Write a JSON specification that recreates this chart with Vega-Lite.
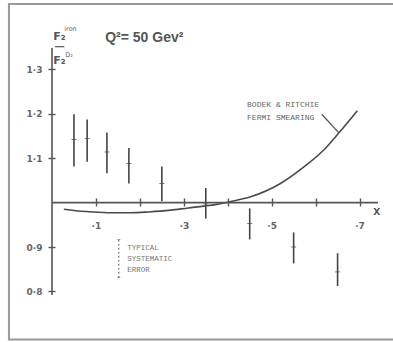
{
  "$schema": "https://vega.github.io/schema/vega-lite/v6.json",
  "autosize": "none",
  "width": 326,
  "height": 247,
  "padding": {"left": 52, "top": 48, "right": 15, "bottom": 47},
  "background": "white",
  "config": {"view": {"stroke": null}, "font": "DejaVu Sans"},
  "datasets": {
    "ratio": [
      {"x": 0.05, "y": 1.142, "lo": 1.081, "hi": 1.199},
      {"x": 0.08, "y": 1.144, "lo": 1.092, "hi": 1.187},
      {"x": 0.125, "y": 1.114, "lo": 1.066, "hi": 1.158},
      {"x": 0.175, "y": 1.088, "lo": 1.043, "hi": 1.123},
      {"x": 0.25, "y": 1.043, "lo": 1.003, "hi": 1.081},
      {"x": 0.35, "y": 0.997, "lo": 0.964, "hi": 1.033},
      {"x": 0.45, "y": 0.953, "lo": 0.917, "hi": 0.987},
      {"x": 0.55, "y": 0.9, "lo": 0.863, "hi": 0.933},
      {"x": 0.65, "y": 0.844, "lo": 0.812, "hi": 0.886}
    ],
    "fermi": [
      {"x": 0.027, "r": 0.985},
      {"x": 0.06, "r": 0.981},
      {"x": 0.095, "r": 0.979},
      {"x": 0.14, "r": 0.977},
      {"x": 0.178, "r": 0.977},
      {"x": 0.22, "r": 0.979},
      {"x": 0.27, "r": 0.983},
      {"x": 0.31, "r": 0.988},
      {"x": 0.345, "r": 0.992},
      {"x": 0.375, "r": 0.996},
      {"x": 0.405, "r": 1.002},
      {"x": 0.452, "r": 1.013},
      {"x": 0.52, "r": 1.043},
      {"x": 0.577, "r": 1.083},
      {"x": 0.619, "r": 1.119},
      {"x": 0.653, "r": 1.157},
      {"x": 0.695, "r": 1.207}
    ]
  },
  "layer": [
    {
      "data": {"name": "ratio"},
      "mark": {"type": "rule", "color": "#444", "strokeWidth": 1.6},
      "encoding": {
        "x": {
          "field": "x", "type": "quantitative", "title": null,
          "scale": {"domain": [0, 0.742], "nice": false, "zero": false},
          "axis": {
            "orient": "bottom", "offset": -97, "domain": false, "grid": false,
            "values": [0.1, 0.2, 0.3, 0.4, 0.5, 0.6, 0.7],
            "tickSize": 8, "tickColor": "#555", "tickWidth": 1.4,
            "labelPadding": 15, "labelFont": "DejaVu Sans", "labelFontSize": 9,
            "labelFontWeight": "bold", "labelColor": "#666",
            "labelExpr": "indexof([1, 3, 5, 7], round(datum.value * 10)) >= 0 ? '·' + round(datum.value * 10) : ''"
          }
        },
        "y": {
          "field": "lo", "type": "quantitative", "title": null,
          "scale": {"domain": [0.792, 1.348], "nice": false, "zero": false},
          "axis": {
            "orient": "left", "offset": -3, "domain": false, "grid": false,
            "values": [0.8, 0.9, 1.1, 1.2, 1.3],
            "tickSize": 7, "tickColor": "#555", "tickWidth": 1.4,
            "labelPadding": 6, "labelFont": "DejaVu Sans", "labelFontSize": 9,
            "labelFontWeight": "bold", "labelColor": "#666",
            "labelExpr": "replace(format(datum.value, '.1f'), '.', '·')"
          }
        },
        "y2": {"field": "hi"}
      }
    },
    {
      "data": {"name": "ratio"},
      "mark": {"type": "tick", "orient": "horizontal", "color": "#444", "size": 5, "thickness": 1},
      "encoding": {
        "x": {"field": "x", "type": "quantitative", "title": null},
        "y": {"field": "y", "type": "quantitative", "title": null}
      }
    },
    {
      "data": {"name": "fermi"},
      "mark": {"type": "line", "interpolate": "monotone", "color": "#4a4a4a", "strokeWidth": 1.6},
      "encoding": {
        "x": {"field": "x", "type": "quantitative", "title": null},
        "y": {"field": "r", "type": "quantitative", "title": null}
      }
    },
    {
      "data": {"values": [{}]},
      "layer": [
        {
          "mark": {"type": "rect", "fill": null, "stroke": "#999", "strokeWidth": 2},
          "encoding": {
            "x": {"datum": -0.098}, "x2": {"datum": 0.83},
            "y": {"datum": 1.447}, "y2": {"datum": 0.692}
          }
        },
        {
          "mark": {"type": "rule", "color": "#555", "strokeWidth": 1.6},
          "encoding": {"x": {"datum": 0}, "y": {"datum": 0.792}, "y2": {"datum": 1.348}}
        },
        {
          "mark": {"type": "rule", "color": "#555", "strokeWidth": 1.6},
          "encoding": {"y": {"datum": 1.0}, "x": {"datum": 0}, "x2": {"datum": 0.742}}
        },
        {
          "mark": {"type": "text", "text": "X", "font": "DejaVu Sans", "fontSize": 9, "fontWeight": "bold", "fill": "#555"},
          "encoding": {"x": {"datum": 0.739}, "y": {"datum": 0.979}}
        },
        {
          "mark": {"type": "text", "text": "Q²= 50 Gev²", "align": "left", "font": "Liberation Sans", "fontSize": 14, "fontWeight": "bold", "fill": "#555"},
          "encoding": {"x": {"datum": 0.121}, "y": {"datum": 1.371}}
        },
        {
          "mark": {"type": "text", "text": "F₂", "font": "DejaVu Sans", "fontSize": 11, "fontWeight": "bold", "fill": "#555"},
          "encoding": {"x": {"datum": 0.017}, "y": {"datum": 1.373}}
        },
        {
          "mark": {"type": "text", "text": "iron", "align": "left", "font": "DejaVu Sans", "fontSize": 6.5, "fill": "#666"},
          "encoding": {"x": {"datum": 0.028}, "y": {"datum": 1.391}}
        },
        {
          "mark": {"type": "rule", "color": "#555", "strokeWidth": 1.2},
          "encoding": {"x": {"datum": 0.007}, "x2": {"datum": 0.028}, "y": {"datum": 1.351}}
        },
        {
          "mark": {"type": "text", "text": "F₂", "font": "DejaVu Sans", "fontSize": 11, "fontWeight": "bold", "fill": "#555"},
          "encoding": {"x": {"datum": 0.017}, "y": {"datum": 1.319}}
        },
        {
          "mark": {"type": "text", "text": "D₂", "align": "left", "font": "DejaVu Sans", "fontSize": 6.5, "fill": "#666"},
          "encoding": {"x": {"datum": 0.03}, "y": {"datum": 1.333}}
        },
        {
          "mark": {"type": "text", "text": "BODEK & RITCHIE", "align": "left", "font": "Liberation Mono", "fontSize": 8, "fill": "#666"},
          "encoding": {"x": {"datum": 0.444}, "y": {"datum": 1.2196}}
        },
        {
          "mark": {"type": "text", "text": "FERMI SMEARING", "align": "left", "font": "Liberation Mono", "fontSize": 8, "fill": "#666"},
          "encoding": {"x": {"datum": 0.444}, "y": {"datum": 1.1896}}
        },
        {
          "mark": {"type": "rule", "color": "#555", "strokeWidth": 1.3},
          "encoding": {"x": {"datum": 0.614}, "y": {"datum": 1.199}, "x2": {"datum": 0.653}, "y2": {"datum": 1.157}}
        },
        {
          "mark": {"type": "rule", "color": "#666", "strokeWidth": 1.2, "strokeDash": [1.5, 2.5]},
          "encoding": {"x": {"datum": 0.152}, "y": {"datum": 0.8315}, "y2": {"datum": 0.917}}
        },
        {
          "mark": {"type": "tick", "orient": "horizontal", "color": "#666", "size": 3, "thickness": 1},
          "encoding": {"x": {"datum": 0.152}, "y": {"datum": 0.917}}
        },
        {
          "mark": {"type": "tick", "orient": "horizontal", "color": "#666", "size": 3, "thickness": 1},
          "encoding": {"x": {"datum": 0.152}, "y": {"datum": 0.8315}}
        },
        {
          "mark": {"type": "text", "text": "TYPICAL", "align": "left", "font": "Liberation Mono", "fontSize": 7.5, "fill": "#777"},
          "encoding": {"x": {"datum": 0.171}, "y": {"datum": 0.897}}
        },
        {
          "mark": {"type": "text", "text": "SYSTEMATIC", "align": "left", "font": "Liberation Mono", "fontSize": 7.5, "fill": "#777"},
          "encoding": {"x": {"datum": 0.171}, "y": {"datum": 0.873}}
        },
        {
          "mark": {"type": "text", "text": "ERROR", "align": "left", "font": "Liberation Mono", "fontSize": 7.5, "fill": "#777"},
          "encoding": {"x": {"datum": 0.171}, "y": {"datum": 0.848}}
        }
      ]
    }
  ]
}
